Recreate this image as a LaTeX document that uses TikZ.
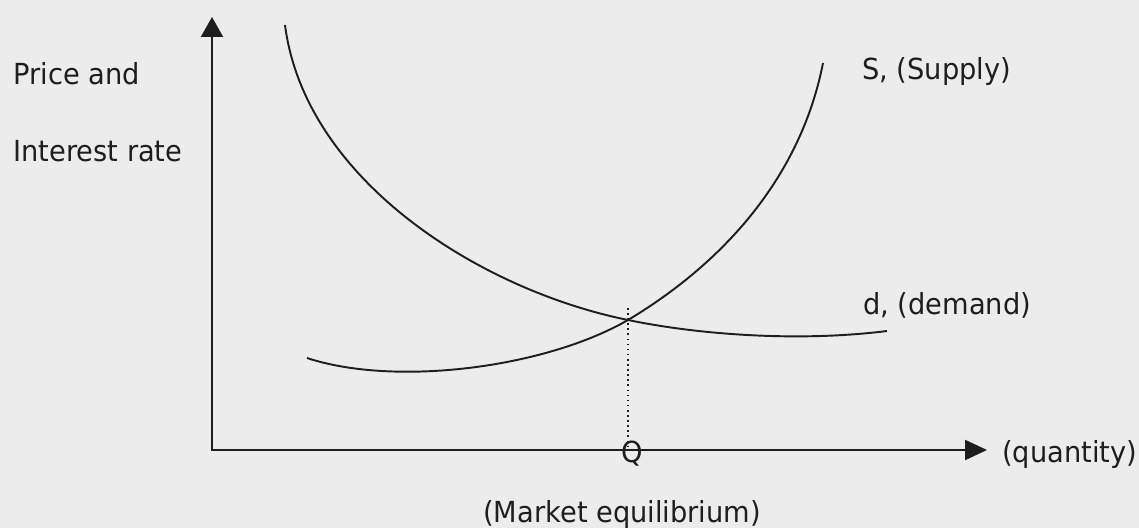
\documentclass[tikz,border=0pt]{standalone}
\usepackage{fontspec}
\setmainfont{DejaVu Sans}[FakeStretch=0.94]
\usetikzlibrary{arrows.meta}
\definecolor{scanbg}{RGB}{236,236,236}
\definecolor{ink}{RGB}{30,30,30}

\begin{document}
\begin{tikzpicture}[x=0.2mm, y=-0.2mm,
    axis/.style={ink, line width=1.2pt,
      {Triangle[length=4mm, width=4.4mm]}-{Triangle[length=4.4mm, width=4mm]}},
    curve/.style={ink, line width=1.1pt},
    lbl/.style={ink, inner sep=0pt, anchor=base west,
      font=\fontsize{16.5}{20}\selectfont}]
  % Page background
  \fill[scanbg] (0,0) rectangle (1139,528);
  \useasboundingbox (0,0) rectangle (1139,528);
  % Axes
  \coordinate (O) at (212,450);
  \coordinate (ytop) at (212,17);
  \coordinate (xend) at (987,450);
  \draw[axis] (ytop) -- (O) -- (xend);
  \node[lbl] (price) at (13,85) {Price and};
  \node[lbl] (rate) at (13,162) {Interest rate};
  \node[lbl] (qty) at (1002,463) {(quantity)};
  % Equilibrium point
  \coordinate (E) at (628,320);
  % Supply curve
  \draw[curve] (307,358) .. controls (395,387) and (545,368) .. (E)
    .. controls (720,265) and (800,180) .. (823,63);
  \node[lbl] (supply) at (862,80) {S, (Supply)};
  % Demand curve
  \draw[curve] (285,25) .. controls (305,180) and (480,290) .. (E)
    .. controls (700,335) and (800,342) .. (887,331);
  \node[lbl] (demand) at (863,315) {d, (demand)};
  % Equilibrium quantity
  \coordinate (eq) at (628,308);
  \draw[ink, dotted, line width=0.9pt] (eq) -- (eq |- O);
  \node[lbl, anchor=base] (Q) at (632,463) {Q};
  \node[lbl] (market) at (483,522) {(Market equilibrium)};
\end{tikzpicture}
\end{document}
